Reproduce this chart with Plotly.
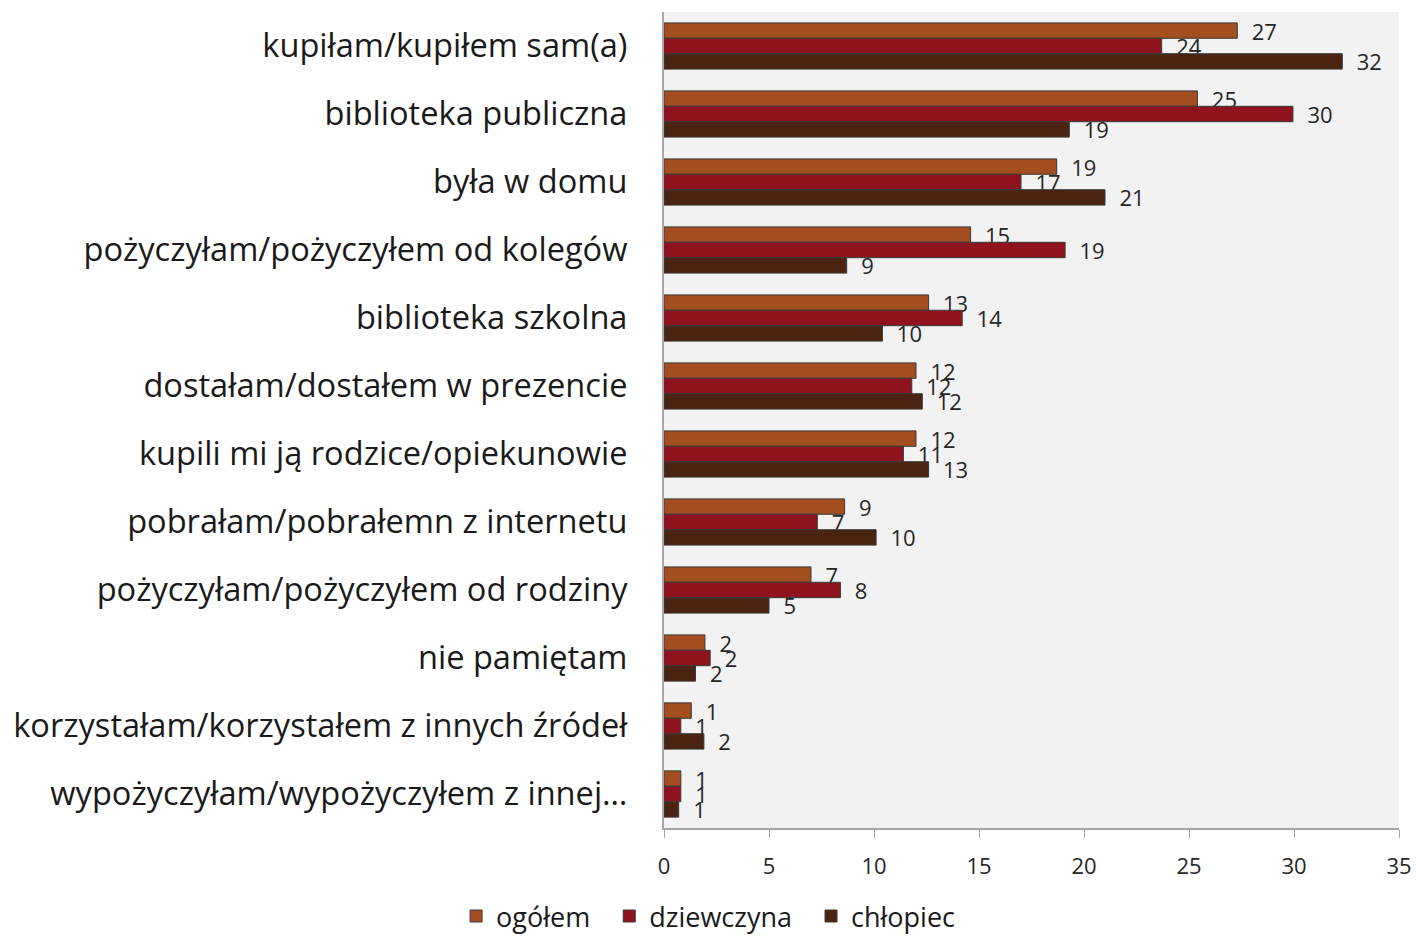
import plotly.graph_objects as go

categories = [
    "kupiłam/kupiłem sam(a)",
    "biblioteka publiczna",
    "była w domu",
    "pożyczyłam/pożyczyłem od kolegów",
    "biblioteka szkolna",
    "dostałam/dostałem w prezencie",
    "kupili mi ją rodzice/opiekunowie",
    "pobrałam/pobrałemn z internetu",
    "pożyczyłam/pożyczyłem od rodziny",
    "nie pamiętam",
    "korzystałam/korzystałem z innych źródeł",
    "wypożyczyłam/wypożyczyłem z innej…",
]
ogolem = [27.3, 25.4, 18.7, 14.6, 12.6, 12.0, 12.0, 8.6, 7.0, 1.95, 1.3, 0.8]
dziewczyna = [23.7, 29.95, 17.0, 19.1, 14.2, 11.8, 11.4, 7.3, 8.4, 2.2, 0.8, 0.8]
chlopiec = [32.3, 19.3, 21.0, 8.7, 10.4, 12.3, 12.6, 10.1, 5.0, 1.5, 1.9, 0.7]

series = [
    ("ogółem", ogolem, "#A44E20"),
    ("dziewczyna", dziewczyna, "#8E131C"),
    ("chłopiec", chlopiec, "#4A2410"),
]

fig = go.Figure()
for name, vals, col in series:
    fig.add_trace(go.Bar(
        y=categories, x=vals, name=name + "\u00a0\u00a0", orientation="h",
        marker=dict(color=col, line=dict(color="#3a3a3a", width=1)),
        texttemplate="\u00a0\u00a0%{x:.0f}", textposition="outside",
        constraintext="none", cliponaxis=False,
        textfont=dict(size=22, color="#262626"),
    ))

fig.update_layout(
    width=1416, height=939,
    barmode="group", bargap=0.32, bargroupgap=0,
    paper_bgcolor="white", plot_bgcolor="#F2F2F2",
    font=dict(family="'Open Sans', sans-serif", color="#1a1a1a"),
    margin=dict(l=664, r=17, t=12, b=111),
    showlegend=True,
    legend=dict(orientation="h", xref="container", x=0.505, xanchor="center",
                yref="container", y=0.024, yanchor="middle",
                font=dict(size=27), traceorder="normal", itemwidth=30),
)
fig.update_xaxes(range=[0, 35], dtick=5, showgrid=False, zeroline=False,
                 showline=True, linecolor="#A6A6A6", linewidth=1.5,
                 ticks="outside", ticklen=8, tickcolor="#A6A6A6",
                 ticklabelstandoff=10, automargin=False,
                 tickfont=dict(size=22, color="#262626"))
fig.update_yaxes(autorange="reversed", showgrid=False, showline=True,
                 linecolor="#A6A6A6", linewidth=2, ticks="",
                 ticklabelstandoff=28,
                 tickfont=dict(size=32.6, color="#1a1a1a"), automargin=False)

fig.write_html("out.html", config={"displayModeBar": False},
               post_script="document.body.style.margin='0';document.body.style.overflow='hidden';")
